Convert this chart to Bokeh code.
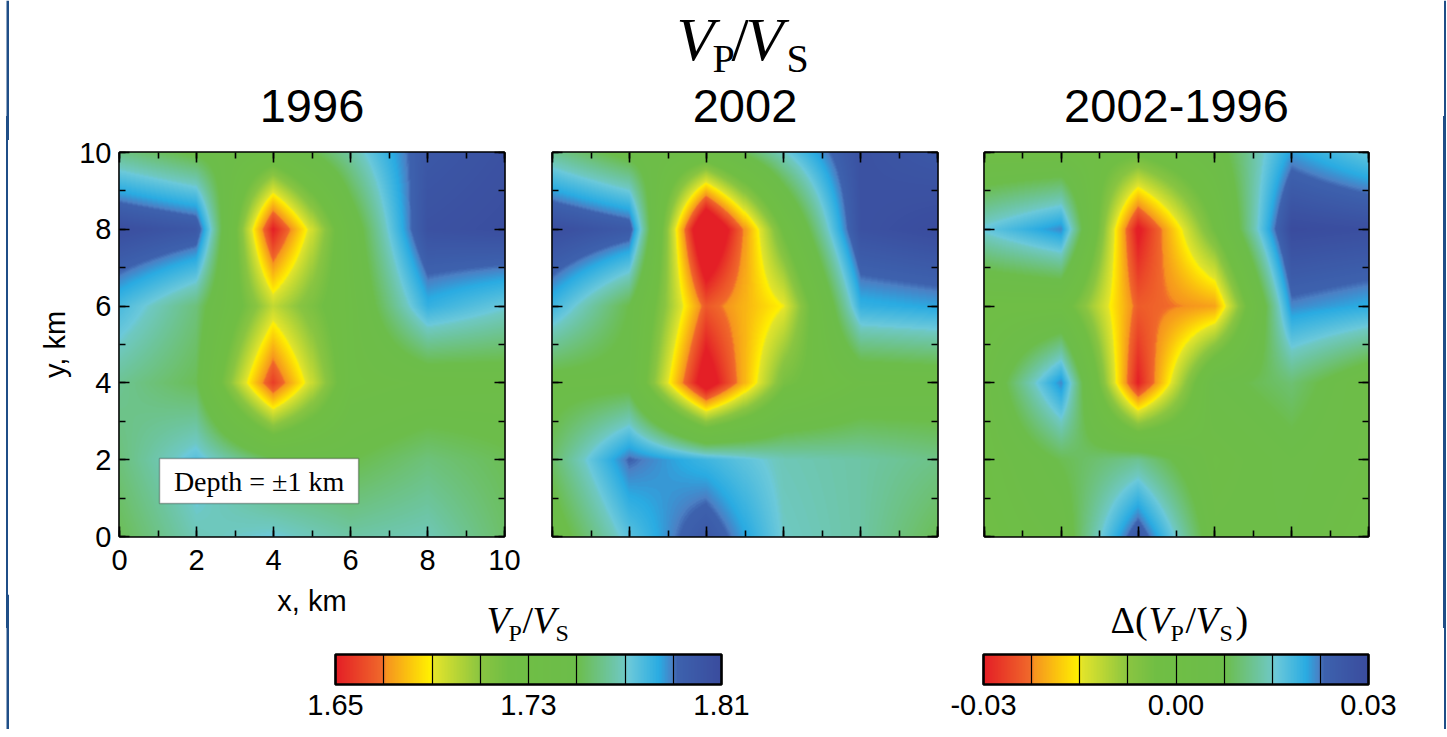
import numpy as np
from bokeh.plotting import figure
from bokeh.models import (LinearColorMapper, ColorBar, LinearAxis, SingleIntervalTicker, FixedTicker,
                          PrintfTickFormatter, CustomJSTickFormatter, Range1d, Label, BoxAnnotation, Spacer)
from bokeh.layouts import row, column
from bokeh.embed import file_html
from bokeh.resources import INLINE

# ---------------- data (grid nodes, km) ----------------
x_km = [0, 2, 4, 6, 8, 10]
y_km = [0, 2, 4, 6, 8, 10]

# rows: y = 0, 2, ..., 10 ; columns: x = 0, 2, ..., 10
vpvs_1996 = [
    [1.752, 1.768, 1.772, 1.765, 1.768, 1.755],
    [1.758, 1.775, 1.752, 1.750, 1.758, 1.752],
    [1.762, 1.752, 1.658, 1.735, 1.740, 1.742],
    [1.778, 1.758, 1.698, 1.735, 1.782, 1.772],
    [1.808, 1.800, 1.650, 1.740, 1.805, 1.808],
    [1.760, 1.748, 1.735, 1.765, 1.800, 1.805],
]
vpvs_2002 = [
    [1.742, 1.775, 1.800, 1.770, 1.765, 1.752],
    [1.755, 1.792, 1.780, 1.768, 1.765, 1.760],
    [1.745, 1.745, 1.638, 1.718, 1.738, 1.740],
    [1.780, 1.750, 1.665, 1.690, 1.782, 1.785],
    [1.808, 1.798, 1.620, 1.724, 1.805, 1.810],
    [1.762, 1.745, 1.735, 1.770, 1.805, 1.800],
]
dvpvs = [
    [0.000, 0.004, 0.026, 0.004, 0.005, 0.001],
    [0.001, 0.008, 0.012, 0.002, 0.006, 0.003],
    [0.002, 0.022, -0.030, 0.006, 0.010, 0.003],
    [0.000, 0.000, -0.024, -0.021, 0.022, 0.020],
    [0.016, 0.022, -0.031, -0.003, 0.030, 0.029],
    [0.001, 0.001, -0.002, 0.005, 0.021, 0.016],
]

panel_titles = ["1996", "2002", "2002-1996"]
vpvs_ticks = [1.65, 1.73, 1.81]
vpvs_dividers = [1.67, 1.69, 1.71, 1.75, 1.77, 1.79]
diff_ticks = [-0.03, 0.00, 0.03]
diff_dividers = [-0.0225, -0.015, -0.0075, 0.0075, 0.015, 0.0225]

# ---------------- colour scale ----------------
stops = [
    (0.000, "#e41f26"), (0.120, "#f0692a"), (0.130, "#f6941f"), (0.245, "#fff100"),
    (0.255, "#e2e42b"), (0.375, "#8ac541"), (0.450, "#70be44"), (0.625, "#6cbd4a"),
    (0.750, "#6ec8c2"), (0.760, "#6cc9da"), (0.840, "#29abe2"), (0.875, "#4b7fc4"),
    (0.885, "#3d62ae"), (1.000, "#3a4c9e"),
]


def build_palette(n=256):
    pos = np.array([s[0] for s in stops])
    rgb = np.array([[int(c[i:i + 2], 16) for i in (1, 3, 5)] for _, c in stops], dtype=float)
    out = []
    for v in np.linspace(0, 1, n):
        r, g, b = (np.interp(v, pos, rgb[:, i]) for i in range(3))
        out.append("#%02x%02x%02x" % (int(round(r)), int(round(g)), int(round(b))))
    return out


palette = build_palette()
mapper_v = LinearColorMapper(palette=palette, low=1.65, high=1.81)
mapper_d = LinearColorMapper(palette=palette, low=-0.03, high=0.03)


def render_grid(grid, n=384):
    """Bilinear rendering of the node grid for display."""
    g = np.array(grid, dtype=float)
    xn = np.array(x_km, dtype=float)
    yn = np.array(y_km, dtype=float)
    px = (np.arange(n) + 0.5) * (xn[-1] - xn[0]) / n + xn[0]
    py = (np.arange(n) + 0.5) * (yn[-1] - yn[0]) / n + yn[0]
    rows_x = np.array([np.interp(px, xn, g[j]) for j in range(len(yn))])
    return np.array([np.interp(py, yn, rows_x[:, i]) for i in range(n)]).T


SANS = "Liberation Sans"
SERIF = "Liberation Serif"
BORDER = "#1f4e87"


def make_axis(show_labels, label=None, label_standoff=10, tick_standoff=8):
    ax = LinearAxis(ticker=SingleIntervalTicker(interval=2, num_minor_ticks=2),
                    major_tick_in=10, major_tick_out=0, minor_tick_in=6, minor_tick_out=0,
                    major_tick_line_width=1.6, minor_tick_line_width=1.6,
                    major_tick_line_color="black", minor_tick_line_color="black",
                    axis_line_color=None)
    if show_labels:
        ax.major_label_text_font = SANS
        ax.major_label_text_font_size = "29px"
        ax.major_label_text_color = "black"
        ax.major_label_standoff = tick_standoff
        if label:
            ax.axis_label = label
            ax.axis_label_text_font = SANS
            ax.axis_label_text_font_size = "29px"
            ax.axis_label_text_font_style = "normal"
            ax.axis_label_text_color = "black"
            ax.axis_label_standoff = label_standoff
    else:
        ax.formatter = CustomJSTickFormatter(code="return ''")
        ax.major_label_standoff = 0
    return ax


def strip(width, height, **kw):
    return figure(width=width, height=height, x_range=Range1d(0, 1), y_range=Range1d(0, 1),
                  x_axis_type=None, y_axis_type=None, toolbar_location=None, output_backend="svg",
                  min_border=0, outline_line_color=None, border_fill_color=None,
                  background_fill_color=None, **kw)


def vbar_border(p, x0, x1, h):
    p.add_layout(BoxAnnotation(left=x0, right=x1, bottom=0, top=h, left_units="screen",
                               right_units="screen", bottom_units="screen", top_units="screen",
                               fill_color=BORDER, fill_alpha=1, line_color=None))


def txt(p, x, baseline_from_bottom, s, size, italic=False, font=SERIF, align="left"):
    # small empirical correction so that the glyph baseline lands at the requested height
    y = baseline_from_bottom + 0.33 * size
    p.add_layout(Label(x=x, y=y, x_units="screen", y_units="screen", text=s, text_font=font,
                       text_font_size=f"{size}px", text_font_style="italic" if italic else "normal",
                       text_align=align, text_baseline="alphabetic", text_color="black"))


TOTAL_W = 1446

# ---------------- title strip ----------------
TITLE_H = 140
top = strip(TOTAL_W, TITLE_H)
vbar_border(top, 6, 8.5, TITLE_H)
vbar_border(top, 1443.5, 1446, TITLE_H)
txt(top, 676, 81, "V", 62, True)
txt(top, 712, 69, "P", 40)
txt(top, 731, 81, "/", 62)
txt(top, 745, 81, "V", 62, True)
txt(top, 786, 69, "S", 40)
for cx, t in zip([311.5, 744.5, 1176], panel_titles):
    txt(top, cx, 19, t, 47, font=SANS, align="center")

# ---------------- panels ----------------
ROW_OVERLAP = 24
ROW_H = 488 + ROW_OVERLAP
frames = [  # (fig width, border left, border right)
    (520, 111, 24),
    (432, 24, 23),
    (480, 24, 72),
]
grids = [vpvs_1996, vpvs_2002, dvpvs]
mappers = [mapper_v, mapper_v, mapper_d]

figs = []
for k in range(3):
    w, bl, br = frames[k]
    p = figure(width=w, height=ROW_H, x_range=Range1d(0, 10), y_range=Range1d(0, 10),
               x_axis_type=None, y_axis_type=None, toolbar_location=None, output_backend="svg",
               min_border_left=bl, min_border_right=br, min_border_top=12 + ROW_OVERLAP,
               min_border_bottom=92)
    p.outline_line_color = "black"
    p.outline_line_width = 2.6
    p.border_fill_color = None
    p.image(image=[render_grid(grids[k])], x=x_km[0], y=y_km[0], dw=x_km[-1] - x_km[0],
            dh=y_km[-1] - y_km[0], color_mapper=mappers[k])
    first = (k == 0)
    p.add_layout(make_axis(first, "x, km", label_standoff=12, tick_standoff=13), "below")
    p.add_layout(make_axis(first, "y, km", label_standoff=5, tick_standoff=8), "left")
    p.add_layout(make_axis(False), "above")
    p.add_layout(make_axis(False), "right")
    figs.append(p)

# depth box in panel 1
figs[0].add_layout(BoxAnnotation(left=1.04, right=6.21, bottom=0.86, top=2.03, fill_color="white",
                                 fill_alpha=1.0, line_color="black", line_width=1.5))
figs[0].add_layout(Label(x=3.625, y=1.445, text="Depth = \u00b11 km", text_align="center",
                         text_baseline="middle", text_font=SERIF, text_font_size="28px",
                         text_color="black"))

left_sp = Spacer(width=8, height=ROW_H,
                 styles={"background": f"linear-gradient(90deg, rgba(255,255,255,0) 6px, {BORDER} 6px)"})
right_sp = Spacer(width=6, height=ROW_H,
                  styles={"background": f"linear-gradient(90deg, rgba(255,255,255,0) 3.5px, {BORDER} 3.5px)"})
panel_row = row(left_sp, *figs, right_sp, margin=(-ROW_OVERLAP, 0, 0, 0))

# ---------------- colour bar strip ----------------
OVERLAP = 34
CB_H = 101 + OVERLAP
cb = strip(TOTAL_W, CB_H, margin=(-OVERLAP, 0, 0, 0))
vbar_border(cb, 6, 8.5, CB_H)
vbar_border(cb, 1443.5, 1446, CB_H)


def make_cbar(mapper, ticks, dividers, x0, w):
    return ColorBar(color_mapper=mapper, orientation="horizontal", location=(x0, 12), width=w, height=30,
                    ticker=FixedTicker(ticks=ticks, minor_ticks=dividers),
                    formatter=PrintfTickFormatter(format="%.2f"),
                    major_label_text_font=SANS, major_label_text_font_size="29px",
                    major_label_text_color="black", label_standoff=10,
                    major_tick_in=30, major_tick_out=0, major_tick_line_color="black",
                    major_tick_line_width=1.2,
                    minor_tick_in=30, minor_tick_out=0, minor_tick_line_color="black",
                    minor_tick_line_width=1.2,
                    bar_line_color="black", bar_line_width=2.6, padding=0,
                    background_fill_color=None, border_line_color=None)


cb.add_layout(make_cbar(mapper_v, vpvs_ticks, vpvs_dividers, 335, 386), "center")
cb.add_layout(make_cbar(mapper_d, diff_ticks, diff_dividers, 983, 385), "center")

# colour bar titles (38px / 24px); baselines ~ page y 632 (main) and 640 (subscripts)
txt(cb, 486, 97, "V", 38, True)
txt(cb, 508, 89, "P", 24)
txt(cb, 522, 97, "/", 38)
txt(cb, 532, 97, "V", 38, True)
txt(cb, 555, 89, "S", 24)

txt(cb, 1110, 97, "\u0394(", 38)
txt(cb, 1148, 97, "V", 38, True)
txt(cb, 1170, 89, "P", 24)
txt(cb, 1185, 97, "/", 38)
txt(cb, 1195, 97, "V", 38, True)
txt(cb, 1219, 89, "S", 24)
txt(cb, 1235, 97, ")", 38)

layout = column(top, panel_row, cb)
open("out.html", "w").write(file_html(layout, INLINE))
